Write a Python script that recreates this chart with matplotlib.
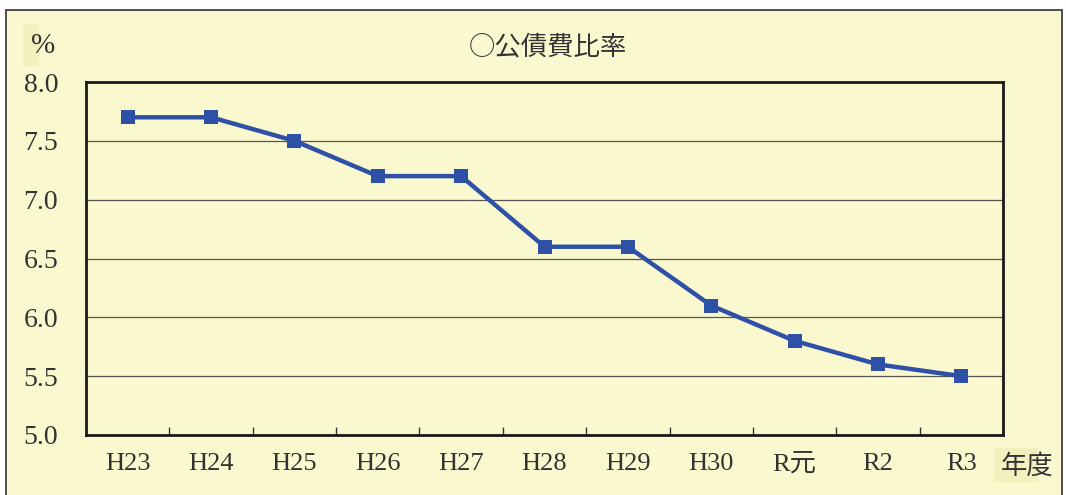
import matplotlib
matplotlib.use("Agg")
import matplotlib.pyplot as plt
from matplotlib.patches import Rectangle
import numpy as np

years = ["H23", "H24", "H25", "H26", "H27", "H28", "H29", "H30", "R元", "R2", "R3"]
ratio = [7.7, 7.7, 7.5, 7.2, 7.2, 6.6, 6.6, 6.1, 5.8, 5.6, 5.5]
yticks = [5.0, 5.5, 6.0, 6.5, 7.0, 7.5, 8.0]

FONT = ["Liberation Serif", "Noto Sans CJK JP", "DejaVu Sans"]
plt.rcParams["font.family"] = FONT
bg = "#FAF8CE"
txt = "#333333"

fig = plt.figure(figsize=(10.66, 4.95), dpi=100)
fig.patch.set_facecolor("white")
W, H = 1066, 495
# outer border
fig.patches.append(Rectangle((6 / W, -0.01), (1062 - 6) / W, (H - 10) / H + 0.01,
                             transform=fig.transFigure, facecolor=bg,
                             edgecolor="#333333", linewidth=1.2, zorder=-5))
fig.patches.append(Rectangle((23 / W, 1 - 66 / H), 16 / W, 42 / H,
                             transform=fig.transFigure, facecolor="#F4F0BE",
                             edgecolor="none", zorder=-4))
fig.patches.append(Rectangle((994 / W, 1 - 482 / H), 44 / W, 34 / H,
                             transform=fig.transFigure, facecolor="#F4F0BE",
                             edgecolor="none", zorder=-4))

ax = fig.add_axes([86 / W, 1 - 435 / H, (1003 - 86) / W, (435 - 82) / H])
ax.set_zorder(2)
ax.set_facecolor(bg)
x = np.arange(len(years))
ax.plot(x, ratio, color="#2E50A6", linewidth=3.2, marker="s", markersize=10,
        markeredgewidth=0, zorder=3)
ax.set_xlim(-0.5, len(years) - 0.5)
ax.set_ylim(5.0, 8.0)
ax.set_yticks(yticks)
ax.set_yticklabels([f"{v:.1f}" for v in yticks], fontsize=20, color=txt)
ax.tick_params(axis="y", length=0, pad=20)
ax.set_xticks(x)
ax.set_xticklabels(years, fontsize=19, color=txt)
ax.tick_params(axis="x", length=0, pad=13)
ax.set_xticks(np.arange(0.5, len(years) - 1, 1.0), minor=True)
ax.tick_params(axis="x", which="minor", direction="in", length=6, width=1, color="#333333")
for v in yticks[1:-1]:
    ax.axhline(v, color="#555555", linewidth=0.9, zorder=1)
for s in ax.spines.values():
    s.set_linewidth(2.0)
    s.set_color("#1a1a1a")

fig.text(548 / W, 1 - 47 / H, "○公債費比率", ha="center", va="center",
         fontsize=19, color=txt, family=["Noto Sans CJK JP", "DejaVu Sans"])
fig.text(43 / W, 1 - 46 / H, "%", ha="center", va="center", fontsize=21, color=txt)
fig.text(1027 / W, 1 - 466 / H, "年度", ha="center", va="center", fontsize=19, color=txt,
         family=["Noto Sans CJK JP", "DejaVu Sans"])

fig.savefig("out.png", dpi=100, facecolor=fig.get_facecolor())
